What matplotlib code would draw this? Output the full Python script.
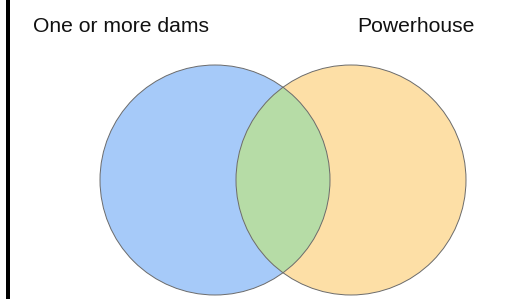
import matplotlib
matplotlib.use("Agg")
import matplotlib.pyplot as plt
from matplotlib.patches import Circle, Rectangle

# givens ##########
set_labels = ["One or more dams", "Powerhouse"]
set_colors = ["#a6caf9", "#fddfa6"]
overlap_color = "#b6dca6"
radius = 115
centers = [(215, 180), (351, 180)]
###################

plt.rcParams['font.family'] = ['Liberation Sans', 'DejaVu Sans']

fig = plt.figure(figsize=(5.18, 2.99), dpi=100)
ax = fig.add_axes([0, 0, 1, 1])
ax.set_xlim(0, 518)
ax.set_ylim(299, 0)
ax.set_aspect('equal')
ax.axis('off')

# black bar on the left
ax.add_patch(Rectangle((6, 0), 4, 299, color='black', lw=0))

circles = []
for (cx, cy), col in zip(centers, set_colors):
    c = Circle((cx, cy), radius, facecolor=col, edgecolor='none')
    ax.add_patch(c)
    circles.append(c)

# overlap
ov = Circle(centers[0], radius, facecolor=overlap_color, edgecolor='none')
ax.add_patch(ov)
ov.set_clip_path(circles[1])

for (cx, cy) in centers:
    ax.add_patch(Circle((cx, cy), radius, facecolor='none', edgecolor='#6b6b6b', lw=0.7))

ax.text(33, 31.5, set_labels[0], fontsize=15.2, va='baseline', ha='left', color='#111111')
ax.text(357, 31.5, set_labels[1], fontsize=15.2, va='baseline', ha='left', color='#111111')

fig.savefig('out.png', dpi=100)
